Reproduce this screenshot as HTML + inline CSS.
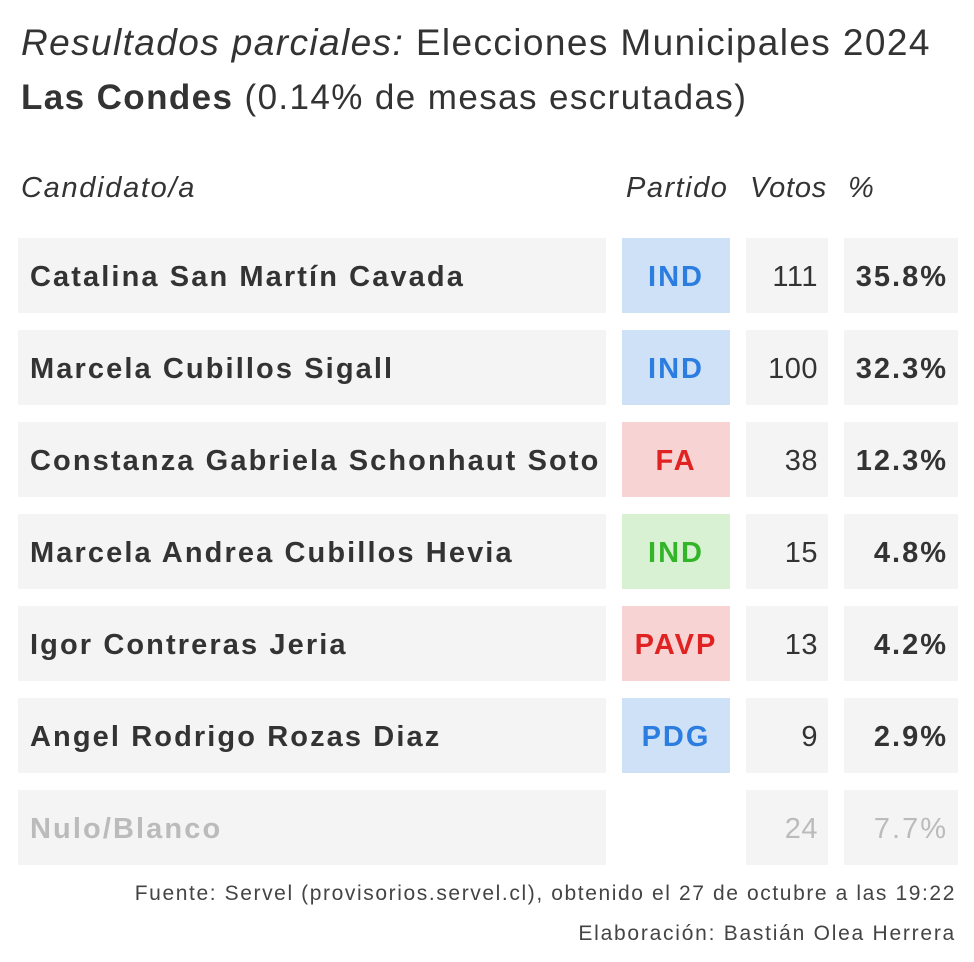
<!DOCTYPE html>
<html><head><meta charset="utf-8">
<style>
body{margin:0;width:974px;height:962px;background:#fff;font-family:"Liberation Sans",sans-serif;color:#333;position:relative;overflow:hidden}
.a{position:absolute;white-space:nowrap}
.cell{position:absolute;height:75px;background:#f4f4f4;display:flex;align-items:center;box-sizing:border-box}
</style></head><body>
<div class="a" style="left:21px;top:20px;font-size:37px;line-height:46px;letter-spacing:1.4px"><i>Resultados parciales:</i> Elecciones Municipales 2024</div>
<div class="a" style="left:21px;top:75px;font-size:35px;line-height:46px;letter-spacing:1.4px"><b>Las Condes</b> (0.14% de mesas escrutadas)</div>
<div class="a" style="left:21px;top:172px;font-size:29px;font-style:italic;letter-spacing:1.7px">Candidato/a</div>
<div class="a" style="left:626px;top:172px;font-size:29px;font-style:italic;letter-spacing:1.5px">Partido</div>
<div class="a" style="left:750px;top:172px;font-size:29px;font-style:italic;letter-spacing:0.8px">Votos</div>
<div class="a" style="left:848px;top:172px;font-size:29px;font-style:italic">%</div>
<div id="rows"></div>
<div class="a" style="right:18px;top:882px;font-size:21px;color:#444;letter-spacing:1.6px">Fuente: Servel (provisorios.servel.cl), obtenido el 27 de octubre a las 19:22</div>
<div class="a" style="right:18px;top:922px;font-size:21px;color:#444;letter-spacing:1.75px">Elaboración: Bastián Olea Herrera</div>
<script>
const names=["Catalina San Martín Cavada","Marcela Cubillos Sigall","Constanza Gabriela Schonhaut Soto","Marcela Andrea Cubillos Hevia","Igor Contreras Jeria","Angel Rodrigo Rozas Diaz","Nulo/Blanco"];
const parties=["IND","IND","FA","IND","PAVP","PDG",""];
const votes=[111,100,38,15,13,9,24];
const pcts=["35.8%","32.3%","12.3%","4.8%","4.2%","2.9%","7.7%"];
const partyStyle={blue:["#cfe1f7","#2b7de0"],red:["#f8d3d3","#e02222"],green:["#d8f1d3","#33b52a"]};
const partyColor=["blue","blue","red","green","red","blue",""];
const root=document.getElementById('rows');
function mk(cls,left,top,w,txt,extra){const d=document.createElement('div');d.className=cls;d.style.left=left+'px';d.style.top=top+'px';d.style.width=w+'px';d.textContent=txt;Object.assign(d.style,extra||{});root.appendChild(d);return d;}
names.forEach((n,i)=>{
 const top=238+i*92;const nulo=i===names.length-1;const col=nulo?'#bbb':'#333';
 const c1=mk('cell',18,top,588,n,{paddingLeft:'12px',paddingTop:'3px',fontSize:'29px',fontWeight:'bold',color:col,letterSpacing:'2.1px'});
 
 
 if(parties[i]){const ps=partyStyle[partyColor[i]];
  const c2=mk('cell',622,top,108,parties[i],{justifyContent:'center',paddingTop:'3px',fontSize:'29px',fontWeight:'bold',background:ps[0],color:ps[1],letterSpacing:'2px'});
  
  }
 const c3=mk('cell',746,top,82,String(votes[i]),{justifyContent:'flex-end',paddingRight:'10px',paddingTop:'3px',fontSize:'29px',color:nulo?'#bbb':'#333',letterSpacing:'0.5px'});
 
 
 const c4=mk('cell',844,top,114,pcts[i],{justifyContent:'flex-end',paddingRight:'10px',paddingTop:'3px',fontSize:'29px',fontWeight:nulo?'normal':'bold',color:nulo?'#bbb':'#333',letterSpacing:'2px'});
 
 
});
</script>
</body></html>
